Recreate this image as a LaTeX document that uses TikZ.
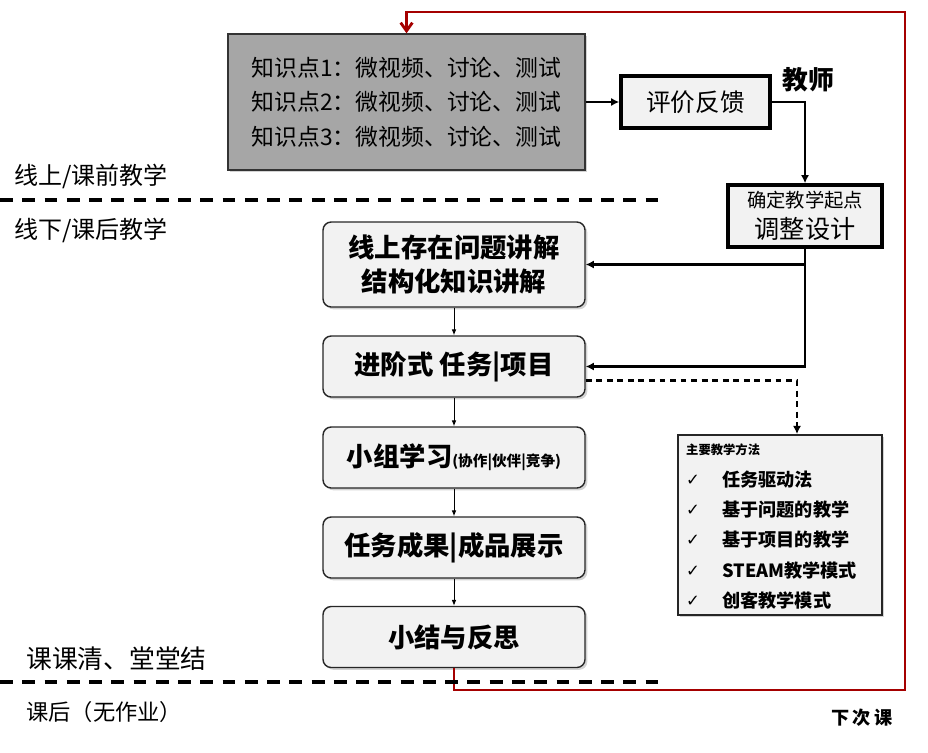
\documentclass[tikz,border=0pt]{standalone}
\usepackage{fontspec}
\setmainfont{Noto Sans CJK SC}
\newfontfamily\symfont{DejaVu Sans}
\usetikzlibrary{arrows.meta,positioning,shadows}

\definecolor{boxgray}{RGB}{242,242,242}
\definecolor{darkgray}{RGB}{166,166,166}
\definecolor{backred}{RGB}{165,0,0}

\tikzset{
  shade/.style={drop shadow={opacity=0.35,shadow xshift=2pt,shadow yshift=-2pt}},
  stage/.style={draw=black!85,fill=boxgray,rounded corners=7pt,line width=1.2pt,
    minimum width=7.86cm,minimum height=1.83cm,align=center,shade,
    font=\bfseries\fontsize{22.5}{29}\selectfont},
  teacherbox/.style={draw=black,fill=boxgray,line width=3pt,align=center,shade},
  flow/.style={-{Latex[length=7pt,width=7pt]},line width=2.2pt},
  step arrow/.style={-{Latex[length=5pt,width=4pt]},line width=0.8pt},
  sep/.style={line width=3pt,dash pattern=on 11pt off 8pt},
  side/.style={anchor=west,inner sep=0pt}
}

\begin{document}
\begin{tikzpicture}[x=0.03cm,y=-0.03cm]
\useasboundingbox (0,0) rectangle (928,752);

% online part
\node[draw=black!80,fill=darkgray,line width=1.2pt,minimum width=10.71cm,minimum height=4.08cm,
  align=left,shade,font=\fontsize{19.5}{29.5}\selectfont] (knowledge) at (406.5,102)
  {知识点1：微视频、讨论、测试\\知识点2：微视频、讨论、测试\\知识点3：微视频、讨论、测试};
\node[teacherbox,minimum width=4.47cm,minimum height=1.56cm,font=\fontsize{21}{24}\selectfont]
  (pingjia) at (695.5,102) {评价反馈};
\node[font=\bfseries\fontsize{22}{24}\selectfont] (teacher) at (808,80) {教师};
\node[teacherbox,minimum width=4.62cm,minimum height=1.86cm,inner sep=1pt,
  font=\fontsize{21.5}{26}\selectfont] (qidian) at (805,216)
  {{\fontsize{16.5}{26}\selectfont 确定教学起点}\\{\fontsize{21.5}{26}\selectfont 调整设计}};

% class stages
\node[stage,minimum height=2.55cm] (jiangjie) at (454,264.5) {线上存在问题讲解\\结构化知识讲解};
\node[stage] (jinjie) at (454,366.5) {进阶式 任务|项目};
\node[stage] (xiaozu) at (454,457.5) {小组学习{\fontsize{12.5}{14}\selectfont (协作|伙伴|竞争)}};
\node[stage] (chengguo) at (454,547.5) {任务成果|成品展示};
\node[stage] (xiaojie) at (454,637) {小结与反思};

\foreach \a/\b in {jiangjie/jinjie,jinjie/xiaozu,xiaozu/chengguo,chengguo/xiaojie}{
  \draw[step arrow] (\a) -- (\b);
}

% methods
\node[draw=black!85,fill=boxgray,line width=1.6pt,minimum width=6.12cm,minimum height=5.4cm,shade]
  (fangfa) at (780,525) {};
\node[anchor=west,inner sep=0pt,font=\bfseries\fontsize{10.5}{12}\selectfont] (fangfatitle) at (686,450) {主要教学方法};
\foreach \i/\y/\txt in {1/480/任务驱动法,2/510/基于问题的教学,3/540/基于项目的教学,4/571/STEAM教学模式,5/601/创客教学模式}{
  \node[anchor=west,inner sep=0pt,font=\symfont\fontsize{14}{15}\selectfont] (check\i) at (686,\y) {✓};
  \node[anchor=west,inner sep=0pt,font=\bfseries\fontsize{15.5}{17}\selectfont] (method\i) at (722,\y) {\txt};
}

% connectors
\draw[flow] (knowledge.east) -- (pingjia.west);
\draw[flow] (pingjia.east) -| (qidian.north);
\draw[flow] (qidian.south) |- (jiangjie.east);
\draw[flow] (qidian.south) |- (jinjie.east);
\draw[flow,dash pattern=on 5pt off 4pt] ([yshift=-0.42cm]jinjie.east) -| ([xshift=0.51cm]fangfa.north);

% back to next class
\coordinate (nextbr) at (905,690);
\coordinate (nexttr) at (905,12);
\draw[backred,line width=2.4pt,-{Straight Barb[length=7pt,width=10pt]}]
  (xiaojie.south) |- (nextbr) -- (nexttr) -| (knowledge.north);
\node[font=\bfseries\fontsize{15.5}{18}\selectfont] (nextclass) at (862,718) {下\,次\,课};

% separators
\foreach \y in {200,682}{
  \draw[sep] (0,\y) -- (665,\y);
}
\node[side,font=\fontsize{20.5}{24}\selectfont] (online) at (14,176) {线上/课前教学};
\node[side,font=\fontsize{20.5}{24}\selectfont] (offline) at (14,230) {线下/课后教学};
\node[side,font=\fontsize{22}{26}\selectfont] (qing) at (26,659) {课课清、堂堂结};
\node[side,font=\fontsize{19}{22}\selectfont] (after) at (26,712) {课后（无作业）};
\end{tikzpicture}
\end{document}
